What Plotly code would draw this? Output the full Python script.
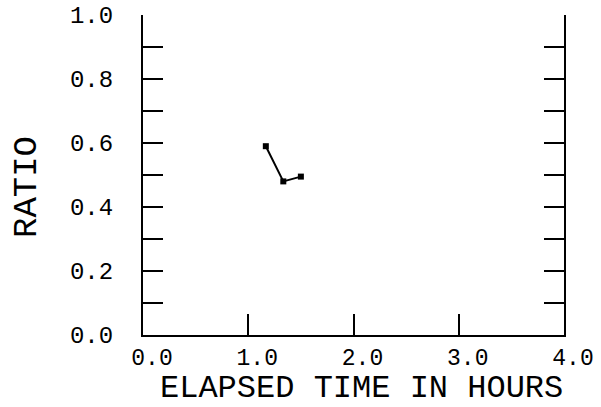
import plotly.graph_objects as go

# Measured ratio over elapsed time
elapsed_hours = [1.167, 1.333, 1.5]
ratio = [0.59, 0.48, 0.495]

# Axis ticks and labels
x_tick_vals = [0, 1, 2, 3, 4]
x_tick_text = ["0.0", "1.0", "2.0", "3.0", "4.0"]
y_tick_vals = [0.0, 0.1, 0.2, 0.3, 0.4, 0.5, 0.6, 0.7, 0.8, 0.9, 1.0]
y_tick_text = ["0.0", "", "0.2", "", "0.4", "", "0.6", "", "0.8", "", "1.0"]

FONT = "Liberation Mono, DejaVu Sans Mono, monospace"

fig = go.Figure()
fig.add_trace(go.Scatter(
    x=elapsed_hours, y=ratio, mode="lines+markers",
    line=dict(color="black", width=2),
    marker=dict(symbol="square", size=6, color="black"),
    showlegend=False,
))

fig.update_layout(
    width=601, height=407,
    margin=dict(l=143, r=37, t=15, b=72, autoexpand=False),
    paper_bgcolor="white", plot_bgcolor="white",
    font=dict(family=FONT, color="black", size=24),
)

fig.update_xaxes(
    range=[0, 4], tickvals=x_tick_vals, ticktext=x_tick_text,
    showgrid=False, zeroline=False, automargin=False,
    showline=True, linecolor="black", linewidth=2,
    ticks="inside", ticklen=21, tickwidth=2, tickcolor="black",
    ticklabelshift=9, ticklabelstandoff=0,
    tickfont=dict(family=FONT, size=23, color="black"),
)
fig.update_yaxes(
    range=[0, 1], tickvals=y_tick_vals, ticktext=y_tick_text,
    showgrid=False, zeroline=False, automargin=False,
    showline=True, linecolor="black", linewidth=2, mirror="ticks",
    ticks="inside", ticklen=20, tickwidth=2, tickcolor="black",
    ticklabelstandoff=23,
    tickfont=dict(family=FONT, size=24, color="black"),
)

fig.add_annotation(
    text="ELAPSED TIME IN HOURS", xref="paper", yref="paper",
    x=0.518, y=-0.168, xanchor="center", yanchor="middle",
    showarrow=False, font=dict(family=FONT, size=32, color="black"),
)
fig.add_annotation(
    text="RATIO", xref="paper", yref="paper",
    x=-0.2755, y=0.4625, xanchor="center", yanchor="middle",
    textangle=-90, showarrow=False,
    font=dict(family=FONT, size=34, color="black"),
)

fig.write_html("out.html")
